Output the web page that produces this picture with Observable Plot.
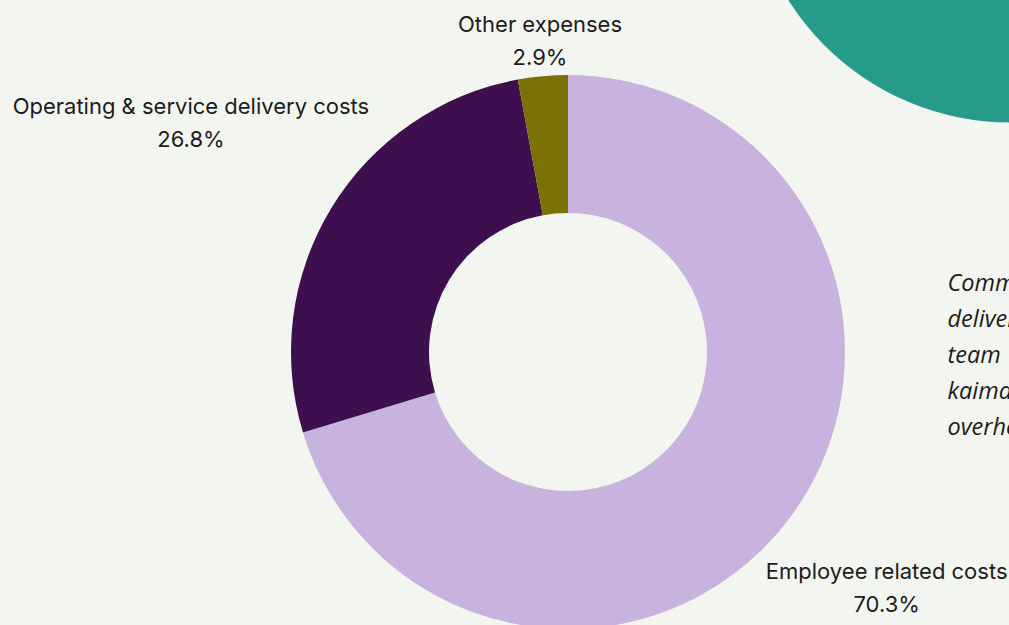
<!DOCTYPE html>
<html>
<head>
<meta charset="utf-8">
<script src="https://cdn.jsdelivr.net/npm/d3@7"></script>
<script src="https://cdn.jsdelivr.net/npm/@observablehq/plot@0.6"></script>
<style>
  html, body { margin: 0; padding: 0; background: #F3F5F0; overflow: hidden; }
  #chart { width: 1009px; height: 625px; }
</style>
</head>
<body>
<div id="chart"></div>
<script>
// ---- data ----
const categories = ["Employee related costs", "Operating & service delivery costs", "Other expenses"];
const shares = [70.3, 26.8, 2.9];
const shareLabels = ["70.3%", "26.8%", "2.9%"];
const colors = ["#C8B2DE", "#3D0F4F", "#7B7205"];
const noteLines = ["Community service", "delivery costs are", "team  salaries and", "kaimahi support, plus", "overheads"];

// ---- layout ----
const W = 1009, H = 625;
const cx = 568, cy = 352, rOuter = 277, rInner = 139;
const labelRadius = [396, 442, 313];
const font = "Inter, Lato, sans-serif";

const rows = categories.map((c, i) => ({category: c, value: shares[i], label: shareLabels[i]}));
const pie = d3.pie().sort(null).value(d => d.value)(rows);
const labelRows = pie.map((p, i) => {
  const a = (p.startAngle + p.endAngle) / 2;
  return {
    x: cx + labelRadius[i] * Math.sin(a),
    y: cy - labelRadius[i] * Math.cos(a),
    text: p.data.category + "\n" + p.data.label
  };
});

function donutMark(index, scales, values, dimensions) {
  const arc = d3.arc().innerRadius(rInner).outerRadius(rOuter);
  const g = d3.create("svg:g")
    .attr("transform", `translate(${scales.x(cx)},${scales.y(cy)})`);
  g.selectAll("path").data(pie).join("path")
    .attr("d", arc)
    .attr("fill", d => scales.color(d.data.category));
  return g.node();
}

const chart = Plot.plot({
  width: W,
  height: H,
  margin: 0,
  style: {background: "#F3F5F0", fontFamily: font, overflow: "hidden"},
  x: {domain: [0, W], range: [0, W], axis: null},
  y: {domain: [0, H], range: [0, H], axis: null},
  color: {domain: categories, range: colors},
  marks: [
    Plot.dot([{x: 1010, y: -141}], {x: "x", y: "y", r: 263, fill: "#269B89", stroke: null}),
    donutMark,
    Plot.text(labelRows, {
      x: "x", y: "y", text: "text", dy: -3,
      fontSize: 22, lineHeight: 1.5, fill: "#1c1c1c",
      textAnchor: "middle", frameAnchor: "middle"
    }),
    Plot.text([noteLines.join("\n")], {
      x: () => 947, y: () => 265, text: d => d,
      fontSize: 23.5, fontStyle: "italic", lineHeight: 1.53,
      fill: "#1c1c1c", textAnchor: "start", lineAnchor: "top",
      fontFamily: "'Open Sans', sans-serif"
    })
  ]
});
document.getElementById("chart").append(chart);
</script>
</body>
</html>
